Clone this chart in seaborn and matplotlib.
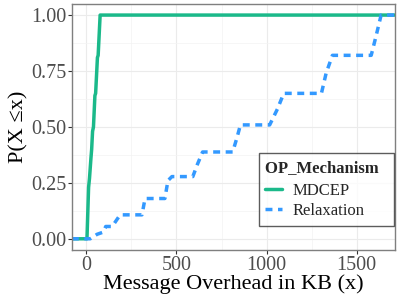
import matplotlib
matplotlib.use("Agg")
import matplotlib.pyplot as plt
import numpy as np
import pandas as pd
import seaborn as sns

# ECDF points (x in KB, y = P(X <= x))
mdcep_x = [-80, 4, 13, 18, 26, 30, 35, 40, 48, 52, 62, 66, 77, 1712]
mdcep_y = [0.0, 0.0, 0.23, 0.27, 0.36, 0.40, 0.48, 0.50, 0.64, 0.65, 0.81, 0.82, 1.0, 1.0]

relax_x = [-80, 22, 60, 95, 108, 144, 165, 188, 309, 326, 436, 453, 475, 591,
           615, 645, 812, 835, 855, 1017, 1060, 1095, 1304, 1330, 1365, 1580,
           1605, 1635, 1712]
relax_y = [0.0, 0.0, 0.02, 0.03, 0.055, 0.055, 0.08, 0.107, 0.107, 0.18, 0.18,
           0.26, 0.278, 0.278, 0.33, 0.388, 0.388, 0.45, 0.509, 0.509, 0.58,
           0.65, 0.65, 0.74, 0.82, 0.82, 0.90, 1.0, 1.0]

x_ticks = [0, 500, 1000, 1500]
y_ticks = [0.00, 0.25, 0.50, 0.75, 1.00]

GREEN = "#1BB98A"
BLUE = "#3399FF"

df = pd.concat([
    pd.DataFrame({"x": mdcep_x, "y": mdcep_y, "OP_Mechanism": "MDCEP"}),
    pd.DataFrame({"x": relax_x, "y": relax_y, "OP_Mechanism": "Relaxation"}),
], ignore_index=True)

sns.set_theme(style="whitegrid")
plt.rcParams["font.family"] = ["Liberation Serif", "DejaVu Sans"]

fig, ax = plt.subplots(figsize=(3.99, 2.99), dpi=100)
fig.subplots_adjust(left=0.180, right=0.990, top=0.987, bottom=0.164)

lw = 2.5
sns.lineplot(data=df, x="x", y="y", hue="OP_Mechanism", style="OP_Mechanism",
             palette={"MDCEP": GREEN, "Relaxation": BLUE},
             dashes={"MDCEP": "", "Relaxation": (2.0, 1.6)},
             estimator=None, sort=False, lw=lw, ax=ax)

ax.set_xlim(-80, 1712)
ax.set_ylim(-0.05, 1.05)
ax.set_xticks(x_ticks)
ax.set_yticks(y_ticks)
ax.set_yticklabels([f"{v:.2f}" for v in y_ticks])
ax.set_xticks([250, 750, 1250], minor=True)
ax.set_yticks([0.125, 0.375, 0.625, 0.875], minor=True)
ax.grid(which="major", color="#EBEBEB", lw=0.8)
ax.grid(which="minor", color="#F3F3F3", lw=0.5)
ax.set_axisbelow(True)

for s in ax.spines.values():
    s.set_color("#7F7F7F")
    s.set_linewidth(1.0)

ax.tick_params(axis="both", which="major", labelsize=14.5, labelcolor="#4D4D4D",
               color="#333333", length=3, width=0.8, pad=1, bottom=True, left=True)
ax.tick_params(which="minor", length=0)

ax.set_xlabel("Message Overhead in KB (x)", fontsize=16, color="black", labelpad=0)
ax.set_ylabel("P(X \u2264x)", fontsize=16, color="black", labelpad=2)

leg = ax.legend(title="OP_Mechanism  ", loc="lower right", bbox_to_anchor=(0.997, 0.098),
                fontsize=12, title_fontproperties={"weight": "bold", "size": 12},
                frameon=True, fancybox=False, handlelength=1.0, borderpad=0.4,
                labelspacing=0.25, handletextpad=0.65, borderaxespad=0)
leg.get_frame().set_edgecolor("#333333")
leg.get_frame().set_linewidth(1.0)
leg._legend_box.align = "left"
leg._legend_box.sep = 5

fig.savefig("out.png", dpi=100)
